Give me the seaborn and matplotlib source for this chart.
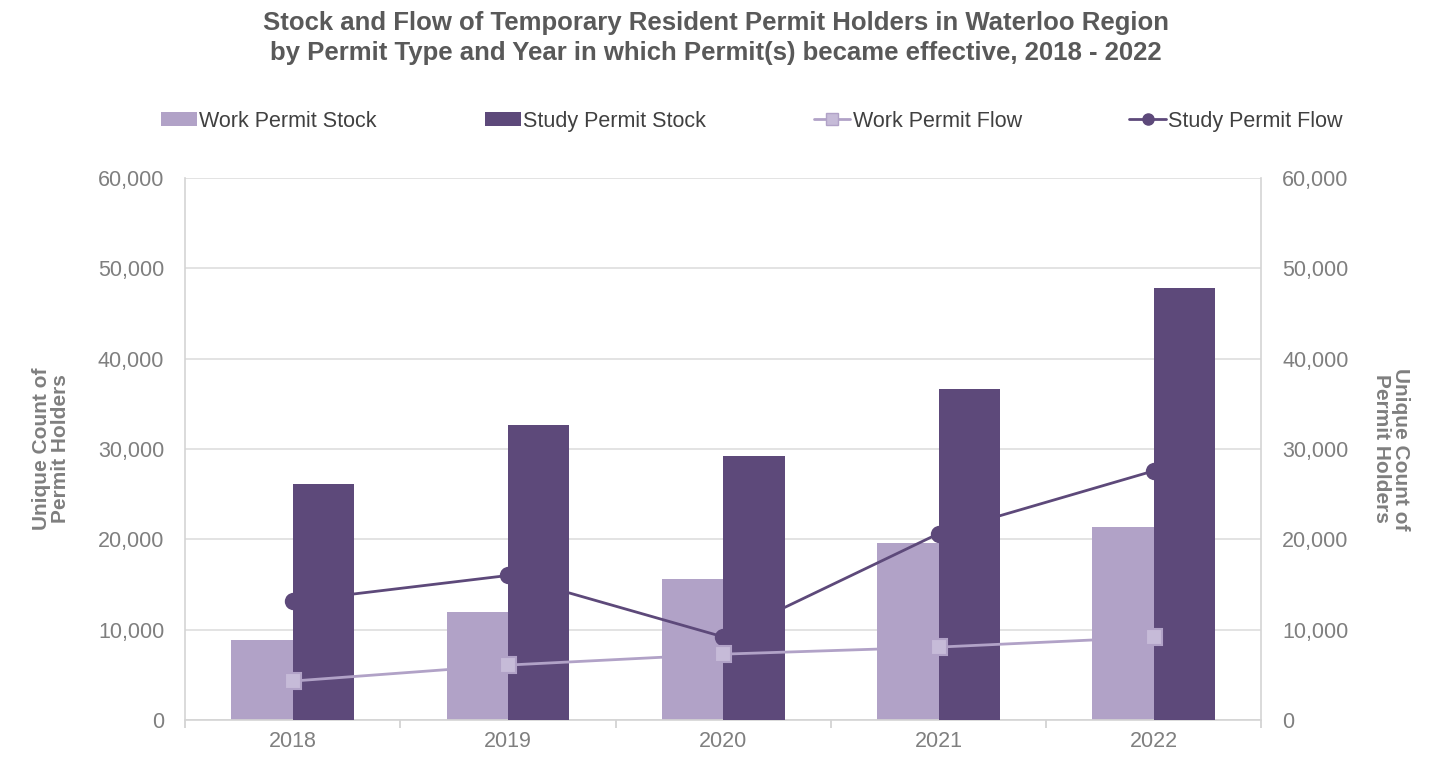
import numpy as np
import pandas as pd
import matplotlib
matplotlib.use("Agg")
import matplotlib.pyplot as plt
import seaborn as sns
from matplotlib.patches import Patch
from matplotlib.lines import Line2D
from matplotlib.ticker import FuncFormatter, FixedLocator

years = ["2018", "2019", "2020", "2021", "2022"]
work_stock = [8820, 11950, 15550, 19590, 21360]
study_stock = [26100, 32650, 29230, 36620, 47860]
work_flow = [4300, 6070, 7280, 8060, 9160]
study_flow = [13130, 15990, 9190, 20620, 27570]

title = ("Stock and Flow of Temporary Resident Permit Holders in Waterloo Region\n"
         "by Permit Type and Year in which Permit(s) became effective, 2018 - 2022")
ylabel = "Unique Count of\nPermit Holders"
yticks = [0, 10000, 20000, 30000, 40000, 50000, 60000]

c_work = "#b1a2c7"
c_work_mk = "#c6bbd8"
c_study = "#5d497a"
c_text = "#7f7f7f"
c_title = "#595959"
c_grid = "#dedede"

sns.set_theme(style="white")
plt.rcParams['font.family'] = ['Liberation Sans', 'DejaVu Sans']

fig = plt.figure(figsize=(14.4, 7.57), dpi=100)
ax = fig.add_axes([0.1285, 0.049, 0.7475, 0.716])

bars = pd.DataFrame({
    "Year": years * 2,
    "Value": work_stock + study_stock,
    "Type": ["Work Permit Stock"] * 5 + ["Study Permit Stock"] * 5,
})
sns.barplot(data=bars, x="Year", y="Value", hue="Type",
            palette=[c_work, c_study], width=0.57, saturation=1,
            linewidth=0, legend=False, ax=ax)
for cont, z in zip(ax.containers, [2, 4]):
    for p in cont:
        p.set_zorder(z)
        p.set_linewidth(0)

n0 = len(ax.lines)
sns.pointplot(x=years, y=study_flow, color=c_study, markers="o",
              markersize=11, linewidth=2, ax=ax)
for ln in ax.lines[n0:]:
    ln.set_zorder(3)
n1 = len(ax.lines)
sns.pointplot(x=years, y=work_flow, color=c_work, markers="s",
              markersize=11, linewidth=2, ax=ax)
for ln in ax.lines[n1:]:
    ln.set_zorder(5)
    ln.set_markerfacecolor(c_work_mk)
    ln.set_markeredgecolor(c_work)

ax.set_ylim(0, 60000)
ax.set_xlim(-0.5, 4.5)
ax.yaxis.set_major_locator(FixedLocator(yticks))
fmt = FuncFormatter(lambda v, p: f"{int(v):,}")
ax.yaxis.set_major_formatter(fmt)
ax.grid(axis="y", color=c_grid, linewidth=1.2, zorder=0)
ax.set_axisbelow(True)
ax.set_xlabel("")
ax.set_ylabel(ylabel, fontsize=15, fontweight="bold", color=c_text, labelpad=20,
              linespacing=1.0)
ax.tick_params(axis="y", labelsize=15.5, labelcolor=c_text, length=0, pad=15)
ax.tick_params(axis="x", which="major", labelsize=15.5, labelcolor=c_text, length=0, pad=8)
ax.set_xticks(np.arange(-0.5, 5.0, 1.0), minor=True)
ax.tick_params(axis="x", which="minor", length=6, color="#cfcfcf", width=1.2, bottom=True)

for side in ["left", "right", "bottom"]:
    ax.spines[side].set_visible(True)
    ax.spines[side].set_color("#d4d4d4")
    ax.spines[side].set_linewidth(1.2)
ax.spines["top"].set_visible(False)

ax2 = ax.twinx()
ax2.set_ylim(ax.get_ylim())
ax2.yaxis.set_major_locator(FixedLocator(yticks))
ax2.yaxis.set_major_formatter(fmt)
ax2.tick_params(axis="y", labelsize=15.5, labelcolor=c_text, length=0, pad=15)
ax2.set_ylabel(ylabel, fontsize=15, fontweight="bold", color=c_text,
               rotation=270, labelpad=44, linespacing=1.0)
for s in ax2.spines.values():
    s.set_visible(False)
ax2.grid(False)

fig.suptitle(title, x=0.497, y=0.985, fontsize=18.5, fontweight="bold",
             color=c_title, linespacing=1.3)

handles = [
    Patch(facecolor=c_work, edgecolor="none", label="Work Permit Stock"),
    Patch(facecolor=c_study, edgecolor="none", label="Study Permit Stock"),
    Line2D([0], [0], color=c_work, marker="s", markersize=9, linewidth=2,
           markerfacecolor=c_work_mk, label="Work Permit Flow"),
    Line2D([0], [0], color=c_study, marker="o", markersize=8, linewidth=2,
           label="Study Permit Flow"),
]
leg = fig.legend(handles=handles, loc="center", bbox_to_anchor=(0.522, 0.84),
                 ncol=4, frameon=False, fontsize=15.5, columnspacing=5.0,
                 handlelength=1.7, handleheight=0.6, handletextpad=0.1)
for t in leg.get_texts():
    t.set_color("#404040")

fig.savefig("out.png", dpi=100, facecolor="white")
